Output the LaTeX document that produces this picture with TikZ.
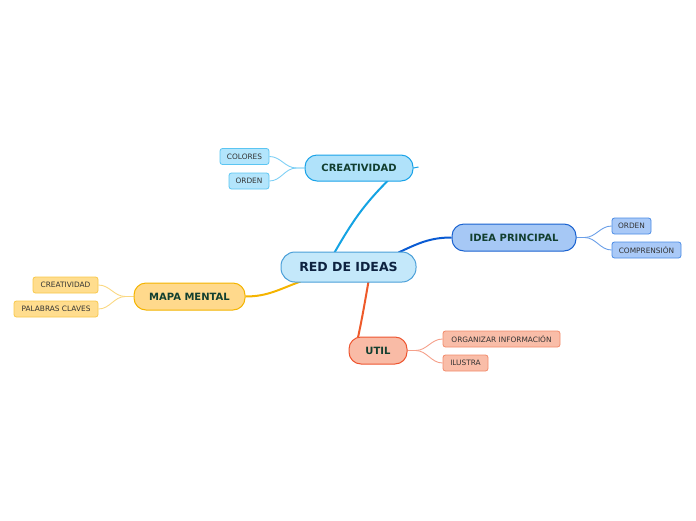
\documentclass[tikz,border=0pt]{standalone}
\usepackage{fontspec}
\setmainfont{DejaVu Sans}
\usetikzlibrary{calc,backgrounds}
\definecolor{cfill}{HTML}{C4E8FA}\definecolor{cbord}{HTML}{4A9FD8}\definecolor{ctext}{HTML}{0D2240}
\definecolor{bfill}{HTML}{B0E2FA}\definecolor{bbord}{HTML}{1AA3E8}\definecolor{bline}{HTML}{14A3E3}
\definecolor{bsfill}{HTML}{B3E5FC}\definecolor{bsbord}{HTML}{5BC5F2}\definecolor{bsline}{HTML}{7FD0F5}
\definecolor{dfill}{HTML}{A6C8F5}\definecolor{dbord}{HTML}{1A62D0}\definecolor{dline}{HTML}{0A5BD3}
\definecolor{dsfill}{HTML}{A9C9F7}\definecolor{dsbord}{HTML}{4B8BE5}\definecolor{dsline}{HTML}{6A9FE8}
\definecolor{yfill}{HTML}{FFD98C}\definecolor{ybord}{HTML}{F4B400}\definecolor{yline}{HTML}{F5B400}
\definecolor{ysfill}{HTML}{FFDD8E}\definecolor{ysbord}{HTML}{F8C84A}\definecolor{ysline}{HTML}{FAD882}
\definecolor{rfill}{HTML}{F9BBA6}\definecolor{rbord}{HTML}{EE5530}\definecolor{rline}{HTML}{EE5A2A}
\definecolor{rsfill}{HTML}{F9BDA8}\definecolor{rsbord}{HTML}{F28A6A}\definecolor{rsline}{HTML}{F5A08A}
\definecolor{ttext}{HTML}{123F30}\definecolor{stext}{HTML}{333333}
\tikzset{
  topicbox/.style={draw, line width=1pt, rounded corners=12pt, inner sep=0pt, font=\fontsize{10}{12}\selectfont\bfseries, text=ttext},
  subbox/.style={draw, line width=0.8pt, rounded corners=2.5pt, inner sep=0pt, minimum height=16pt, font=\fontsize{7.4}{9}\selectfont, text=stext},
  mainline/.style={line width=2pt},
  subline/.style={line width=0.9pt},
}
\begin{document}
\begin{tikzpicture}[x=1pt,y=-1pt]
\useasboundingbox (0,0) rectangle (696,520);
% central
\node[draw=cbord, fill=cfill, line width=1pt, rounded corners=14pt, inner sep=0pt, minimum width=135pt, minimum height=30pt, font=\fontsize{12.5}{14}\selectfont\bfseries, text=ctext] (red) at (348.5,267) {RED DE IDEAS};
% topics
\node[topicbox, draw=bbord, fill=bfill, minimum width=108pt, minimum height=26pt] (creat) at (359,168) {CREATIVIDAD};
\node[topicbox, draw=dbord, fill=dfill, minimum width=124pt, minimum height=27pt] (idea) at (514,237.5) {IDEA PRINCIPAL};
\node[topicbox, draw=ybord, fill=yfill, minimum width=111pt, minimum height=27pt] (mapa) at (189.5,296.5) {MAPA MENTAL};
\node[topicbox, draw=rbord, fill=rfill, minimum width=58pt, minimum height=27pt] (util) at (378,350.5) {UTIL};
% subtopics
\node[subbox, draw=bsbord, fill=bsfill, minimum width=49pt] (colores) at (244.5,156.5) {COLORES};
\node[subbox, draw=bsbord, fill=bsfill, minimum width=40pt] (orden1) at (249,181) {ORDEN};
\node[subbox, draw=dsbord, fill=dsfill, minimum width=39pt] (orden2) at (631.5,226) {ORDEN};
\node[subbox, draw=dsbord, fill=dsfill, minimum width=69pt] (compr) at (646.5,250) {COMPRENSIÓN};
\node[subbox, draw=ysbord, fill=ysfill, minimum width=65pt] (creat2) at (65.5,285) {CREATIVIDAD};
\node[subbox, draw=ysbord, fill=ysfill, minimum width=84pt] (palab) at (56,309) {PALABRAS CLAVES};
\node[subbox, draw=rsbord, fill=rsfill, minimum width=117pt] (organ) at (501.5,339) {ORGANIZAR INFORMACIÓN};
\node[subbox, draw=rsbord, fill=rsfill, minimum width=45pt] (ilus) at (465.5,363) {ILUSTRA};
\begin{scope}[on background layer]
% main connectors
\draw[mainline, bline] ($(red.north)+(-14,1)$) to[out=60, in=225] ($(creat.south)+(29,-1)$);
\draw[mainline, dline] ($(red.north)+(50,1)$) to[out=25, in=180] (idea.west);
\draw[mainline, yline] ($(red.south)+(-48,-1)$) to[out=200, in=0] (mapa.east);
\draw[mainline, rline] ($(red.south)+(20,-1)$) to[out=-100, in=78] ($(util.north)+(-20,1)$);
% sub connectors
\draw[subline, bsline] (creat.west) -- ++(-8,0) to[out=180, in=0] (colores.east);
\draw[subline, bsline] (creat.west) -- ++(-8,0) to[out=180, in=0] (orden1.east);
\draw[subline, dsline] (idea.east) -- ++(8,0) to[out=0, in=180] (orden2.west);
\draw[subline, dsline] (idea.east) -- ++(8,0) to[out=0, in=180] (compr.west);
\draw[subline, ysline] (mapa.west) -- ++(-8,0) to[out=180, in=0] (creat2.east);
\draw[subline, ysline] (mapa.west) -- ++(-8,0) to[out=180, in=0] (palab.east);
\draw[subline, rsline] (util.east) -- ++(8,0) to[out=0, in=180] (organ.west);
\draw[subline, rsline] (util.east) -- ++(8,0) to[out=0, in=180] (ilus.west);
\end{scope}
\draw[line width=1pt, bbord] (creat.east) -- ++(5,-1);
\end{tikzpicture}
\end{document}
